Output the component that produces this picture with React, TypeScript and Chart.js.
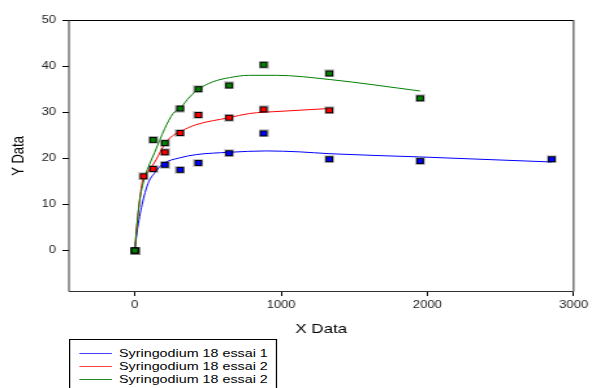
import React, { useEffect, useRef } from "react";
import { Chart, registerables } from "chart.js";

Chart.register(...registerables);

// ---- data ----
const X_TICKS = [0, 1000, 2000, 3000];
const Y_TICKS = [0, 10, 20, 30, 40, 50];
const X_MIN = -450;
const X_MAX = 3000;
const Y_MIN = -9;
const Y_MAX = 50;

const SERIES_NAMES = [
  "Syringodium 18 essai 1",
  "Syringodium 18 essai 2",
  "Syringodium 18 essai 2",
];

// measured points
const blueX = [0, 205, 310, 435, 645, 880, 1330, 1950, 2850];
const blueY = [0, 18.6, 17.5, 19.0, 21.1, 25.4, 19.8, 19.4, 19.8];
const redX = [0, 60, 125, 205, 310, 435, 645, 880, 1330];
const redY = [0, 16.1, 17.7, 21.3, 25.5, 29.4, 28.8, 30.6, 30.4];
const greenX = [0, 125, 205, 310, 435, 645, 880, 1330, 1950];
const greenY = [0, 24.0, 23.3, 30.8, 35.0, 35.8, 40.3, 38.4, 33.0];

// fitted curves
const blueFitX = [0, 15, 50, 90, 140, 193, 307, 420, 643, 900, 1125, 1330, 1950, 2850];
const blueFitY = [0, 4.0, 10.0, 14.5, 17.0, 18.8, 20.1, 20.8, 21.3, 21.6, 21.4, 21.0, 20.3, 19.2];
const redFitX = [0, 11, 30, 52, 80, 107, 148, 193, 239, 311, 420, 643, 780, 1000, 1330];
const redFitY = [0, 4.3, 10.1, 15.0, 16.7, 17.8, 19.8, 22.5, 24.4, 25.8, 27.3, 28.8, 29.7, 30.2, 30.8];
const greenFitX = [0, 12, 30, 68, 102, 136, 170, 204, 261, 311, 375, 436, 534, 648, 780, 966, 1330, 1950];
const greenFitY = [0, 4.5, 10.1, 15.9, 18.8, 21.3, 23.9, 26.4, 29.7, 30.9, 33.3, 35.0, 36.6, 37.5, 38.0, 38.0, 37.1, 34.6];

const COLORS = ["#0000ff", "#ff0000", "#007f00"];
const LEGEND_COLORS = ["#4444ff", "#ff4444", "#228822"];

const zip = (xs: number[], ys: number[]) => xs.map((x, i) => ({ x, y: ys[i] }));

// ---- layout ----
const W = 455;
const H = 388;
const SX = 592 / W;
const FONT = "'Liberation Sans', Arial, sans-serif";

function makeMarker(color: string) {
  const c = document.createElement("canvas");
  c.width = 8;
  c.height = 8;
  const g = c.getContext("2d")!;
  g.fillStyle = "rgba(0,0,0,0.2)";
  g.fillRect(0, 0, 8, 8);
  g.fillStyle = "#000";
  g.fillRect(1, 1, 6, 6);
  g.fillStyle = color;
  g.fillRect(2, 2, 4, 4);
  return c;
}

const framePlugin = {
  id: "frame",
  afterDraw(chart: any) {
    const { ctx, chartArea: a } = chart;
    ctx.save();
    ctx.lineWidth = 1;
    ctx.strokeStyle = "#000";
    ctx.beginPath();
    ctx.moveTo(a.left, a.top + 0.5);
    ctx.lineTo(a.right, a.top + 0.5);
    ctx.stroke();
    ctx.strokeStyle = "#333";
    ctx.beginPath();
    ctx.moveTo(a.left, a.top);
    ctx.lineTo(a.left, a.bottom - 0.5);
    ctx.lineTo(a.right, a.bottom - 0.5);
    ctx.lineTo(a.right, a.top);
    ctx.stroke();
    ctx.restore();
  },
};

export default function App() {
  const ref = useRef<HTMLCanvasElement>(null);

  useEffect(() => {
    if (!ref.current) return;
    const markers = COLORS.map(makeMarker);
    const pts = [zip(blueX, blueY), zip(redX, redY), zip(greenX, greenY)];
    const fits = [zip(blueFitX, blueFitY), zip(redFitX, redFitY), zip(greenFitX, greenFitY)];

    const pointSet = (i: number) => ({
      label: SERIES_NAMES[i] + " pts",
      data: pts[i],
      showLine: false,
      pointStyle: markers[i],
      pointRadius: 4,
      backgroundColor: COLORS[i],
      borderColor: COLORS[i],
    });
    const fitSet = (i: number) => ({
      label: SERIES_NAMES[i],
      data: fits[i],
      showLine: true,
      pointRadius: 0,
      borderWidth: 1,
      borderColor: COLORS[i],
      backgroundColor: COLORS[i],
      cubicInterpolationMode: "monotone" as const,
    });

    const chart = new Chart(ref.current, {
      type: "scatter",
      data: {
        datasets: [pointSet(2), pointSet(1), pointSet(0), fitSet(2), fitSet(1), fitSet(0)] as any,
      },
      plugins: [framePlugin],
      options: {
        animation: false,
        responsive: false,
        devicePixelRatio: 1,
        events: [],
        layout: { padding: { top: 20, right: 12.3, left: 0, bottom: 0 } },
        plugins: { legend: { display: false }, tooltip: { enabled: false } },
        scales: {
          x: {
            type: "linear",
            min: X_MIN,
            max: X_MAX,
            afterBuildTicks: (s: any) => {
              s.ticks = X_TICKS.map((v) => ({ value: v }));
            },
            afterFit: (s: any) => {
              s.height = 96;
            },
            ticks: {
              font: { family: FONT, size: 10 },
              color: "#222",
              padding: 3,
              maxRotation: 0,
              autoSkip: false,
              callback: (v: any) => String(v),
            },
            grid: { drawOnChartArea: false, drawTicks: true, tickLength: 4, color: "#000" },
            border: { display: false },
            title: {
              display: true,
              text: "X Data",
              color: "#000",
              font: { family: FONT, size: 13 },
              padding: { top: 0, bottom: 51 },
            },
          },
          y: {
            type: "linear",
            min: Y_MIN,
            max: Y_MAX,
            afterBuildTicks: (s: any) => {
              s.ticks = Y_TICKS.map((v) => ({ value: v }));
            },
            afterFit: (s: any) => {
              s.width = 53;
            },
            ticks: {
              font: { family: FONT, size: 10 },
              color: "#222",
              padding: 5,
              autoSkip: false,
              callback: (v: any) => String(v),
            },
            grid: { drawOnChartArea: false, drawTicks: true, tickLength: 5, color: "#000" },
            border: { display: false },
            title: {
              display: true,
              text: "Y Data",
              color: "#000",
              font: { family: FONT, size: 13 },
              padding: { top: 6.4, bottom: 0 },
            },
          },
        },
      } as any,
    });
    return () => chart.destroy();
  }, []);

  return (
    <div
      style={{
        position: "fixed",
        left: 0,
        top: 0,
        width: W,
        height: H,
        transform: `scaleX(${SX})`,
        transformOrigin: "0 0",
        background: "#fff",
        overflow: "hidden",
      }}
    >
      <canvas ref={ref} width={W} height={H} style={{ display: "block" }} />
      <div
        style={{
          position: "absolute",
          left: 53,
          top: 339,
          width: 160,
          height: 60,
          border: "1px solid #000",
          boxSizing: "border-box",
          background: "#fff",
          fontFamily: FONT,
          fontSize: 11,
          color: "#000",
        }}
      >
        {SERIES_NAMES.map((name, i) => (
          <div
            key={i}
            style={{
              position: "absolute",
              left: 0,
              top: 5.7 + i * 13.2,
              height: 14,
              lineHeight: "14px",
              width: "100%",
            }}
          >
            <span
              style={{
                position: "absolute",
                left: 6.7,
                top: 7,
                width: 25.4,
                height: 1,
                background: LEGEND_COLORS[i],
              }}
            />
            <span style={{ position: "absolute", left: 37.5, top: 0, whiteSpace: "nowrap" }}>{name}</span>
          </div>
        ))}
      </div>
    </div>
  );
}
